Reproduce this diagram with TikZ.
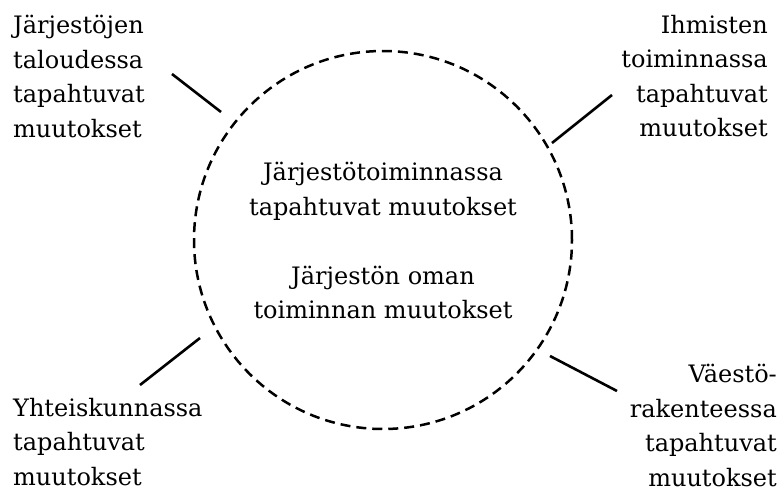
\documentclass[tikz,border=0pt]{standalone}
\usepackage{fontspec}
\setmainfont{DejaVu Serif}
\usetikzlibrary{calc}
\tikzset{
    ring/.style = {
        circle, draw, inner sep = 0pt,
        minimum size = 378pt,
        line width = 2.5pt,
        dash pattern = on 10pt off 6pt
    },
    label text/.style = {inner sep = 0pt, font = \fontsize{24}{34.5}\selectfont},
    link/.style = {line width = 2.6pt},
}

\begin{document}
\begin{tikzpicture}[x = 1pt, y = -1pt]
    \useasboundingbox (0, 0) rectangle (782, 493);
    \node (ring) [ring] at (383, 240) {};
    \node (core) [label text, align = center, anchor = north] at (383, 162)
        {Järjestötoiminnassa\\tapahtuvat muutokset\\[34.5pt]Järjestön oman\\toiminnan muutokset};
    %
    \node (economy) [label text, align = left, anchor = north west] at (13, 15)
        {Järjestöjen\\taloudessa\\tapahtuvat\\muutokset};
    \node (people) [label text, align = right, anchor = north east] at (768, 15)
        {Ihmisten\\toiminnassa\\tapahtuvat\\muutokset};
    \node (society) [label text, align = left, anchor = north west] at (13, 398)
        {Yhteiskunnassa\\tapahtuvat\\muutokset};
    \node (population) [label text, align = right, anchor = north east] at (777, 364)
        {Väestö-\\rakenteessa\\tapahtuvat\\muutokset};
    %
    \coordinate (economy end) at (172, 74);
    \coordinate (economy tip) at (221, 112);
    \coordinate (people end) at (612, 95);
    \coordinate (people tip) at (552, 143);
    \coordinate (society end) at (140, 385);
    \coordinate (society tip) at (200, 338);
    \coordinate (population end) at (617, 391);
    \coordinate (population tip) at (550, 356);
    \draw [link] (economy end) -- (economy tip);
    \draw [link] (people end) -- (people tip);
    \draw [link] (society end) -- (society tip);
    \draw [link] (population end) -- (population tip);
\end{tikzpicture}
\end{document}
